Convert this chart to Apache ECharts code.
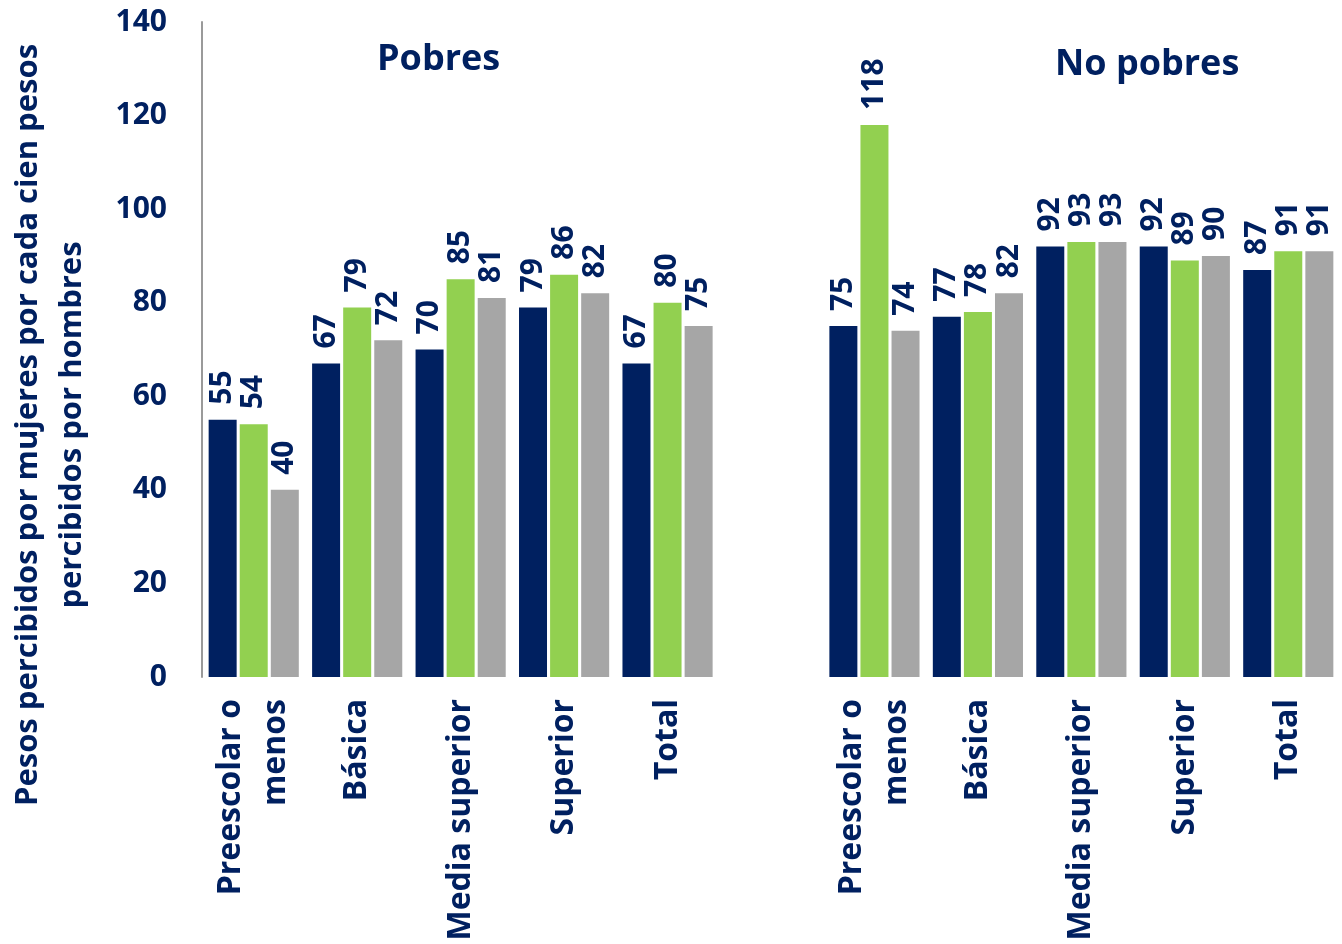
<!DOCTYPE html>
<html>
<head>
<meta charset="utf-8">
<script src="https://cdn.jsdelivr.net/npm/echarts@6/dist/echarts.min.js"></script>
<style>
html, body { margin: 0; padding: 0; background: #fff; }
#chart { width: 1342px; height: 944px; }
</style>
</head>
<body>
<div id="chart"></div>
<script>
// niveles educativos (el hueco del medio separa Pobres / No pobres)
var categorias = ['Preescolar o\nmenos', 'Básica', 'Media superior', 'Superior', 'Total'];

// Pobres
var pobresSerie1 = [55, 67, 70, 79, 67];
var pobresSerie2 = [54, 79, 85, 86, 80];
var pobresSerie3 = [40, 72, 81, 82, 75];

// No pobres
var noPobresSerie1 = [75, 77, 92, 92, 87];
var noPobresSerie2 = [118, 78, 93, 89, 91];
var noPobresSerie3 = [74, 82, 93, 90, 91];

var yTicks = [0, 20, 40, 60, 80, 100, 120, 140];

var azul = '#002060', verde = '#92d050', gris = '#a6a6a6';
var fuente = 'Open Sans';

var ejeX = categorias.concat(['']).concat(categorias);
function unir(a, b) { return a.concat(['-']).concat(b); }

var etiqueta = {
    show: true,
    position: 'top',
    rotate: 90,
    align: 'left',
    verticalAlign: 'middle',
    distance: 12,
    offset: [3, 0],
    color: azul,
    fontFamily: fuente,
    fontWeight: 'bold',
    fontSize: 30
};

function serie(nombre, color, datos) {
    return {
        name: nombre,
        type: 'bar',
        barWidth: 28,
        barGap: '11%',
        itemStyle: { color: color },
        label: etiqueta,
        data: datos
    };
}

var el = document.getElementById('chart');
var chart = echarts.init(el);

var option = {
    animation: false,
    backgroundColor: '#fff',
    grid: { left: 202, right: 2, top: 22, bottom: 267, containLabel: false },
    title: [
        { text: 'Pobres', left: 372, top: 37, textStyle: { color: azul, fontFamily: fuente, fontWeight: 'bold', fontSize: 36 } },
        { text: 'No pobres', left: 1050, top: 42, textStyle: { color: azul, fontFamily: fuente, fontWeight: 'bold', fontSize: 36 } }
    ],
    xAxis: {
        type: 'category',
        data: ejeX,
        axisLine: { show: false },
        axisTick: { show: false },
        axisLabel: {
            interval: 0,
            rotate: 90,
            margin: 22,
            color: azul,
            fontFamily: fuente,
            fontWeight: 'bold',
            fontSize: 32,
            lineHeight: 45
        }
    },
    yAxis: {
        type: 'value',
        min: yTicks[0],
        max: yTicks[yTicks.length - 1],
        interval: 20,
        splitLine: { show: false },
        axisTick: { show: false },
        axisLine: { show: true, lineStyle: { color: '#9a9a9a', width: 2 } },
        axisLabel: {
            margin: 35,
            color: azul,
            fontFamily: fuente,
            fontWeight: 'bold',
            fontSize: 30
        }
    },
    graphic: [{
        type: 'text',
        x: 50,
        y: 425,
        rotation: Math.PI / 2,
        style: {
            text: 'Pesos percibidos por mujeres por cada cien pesos\npercibidos por hombres',
            fill: azul,
            font: 'bold 31px "Open Sans"',
            lineHeight: 44,
            align: 'center',
            verticalAlign: 'middle'
        }
    }],
    series: [
        serie('Serie 1', azul, unir(pobresSerie1, noPobresSerie1)),
        serie('Serie 2', verde, unir(pobresSerie2, noPobresSerie2)),
        serie('Serie 3', gris, unir(pobresSerie3, noPobresSerie3))
    ]
};

chart.setOption(option);
</script>
</body>
</html>
